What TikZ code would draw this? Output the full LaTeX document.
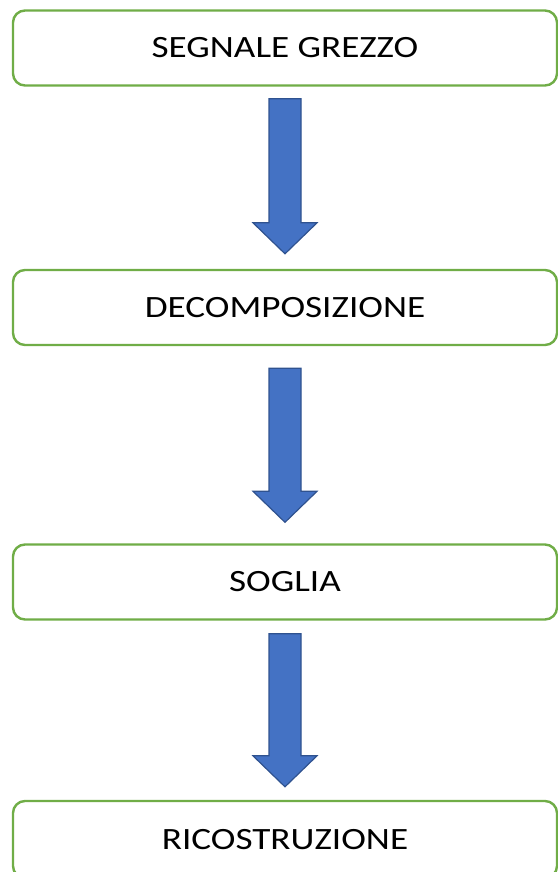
\documentclass[tikz,border=0pt]{standalone}
\usepackage{fontspec}
\setmainfont{Carlito}[FakeStretch=1.2]
\usetikzlibrary{calc}

\definecolor{boxgreen}{HTML}{70AD47}
\definecolor{arrowfill}{HTML}{4472C4}
\definecolor{arrowline}{HTML}{2F528F}

\tikzset{
  stepbox/.style={draw=boxgreen,line width=2.4pt,rounded corners=12pt,fill=white,
    minimum width=544pt,minimum height=75pt,font=\fontsize{31}{35}\selectfont},
  blockarrow/.style={fill=arrowfill,draw=arrowline,line width=1.2pt,line join=miter}
}

% block arrow pointing down from #1 to #2
\newcommand\downblock[2]{%
  \draw[blockarrow] let \p1=(#1), \p2=(#2) in
    (\x1-16,\y1) -- (\x1+16,\y1) -- (\x1+16,\y2+31) -- (\x1+32,\y2+31)
    -- (\x2,\y2) -- (\x1-32,\y2+31) -- (\x1-16,\y2+31) -- cycle;}

\begin{document}
\begin{tikzpicture}[x=1pt,y=-1pt]
  \useasboundingbox (0,0) rectangle (557,872);

  \node[stepbox] (raw)   at (285,48)    {SEGNALE GREZZO};
  \node[stepbox] (decomp) at (285,307.5) {DECOMPOSIZIONE};
  \node[stepbox] (thresh) at (285,582)   {SOGLIA};
  \node[stepbox,minimum height=77pt] (recon) at (285,839.5) {RICOSTRUZIONE};

  \coordinate (a1) at ($ (raw.south) + (0,12) $);
  \coordinate (t1) at ($ (decomp.north) + (0,-15) $);
  \coordinate (a2) at ($ (decomp.south) + (0,22) $);
  \coordinate (t2) at ($ (thresh.north) + (0,-21) $);
  \coordinate (a3) at ($ (thresh.south) + (0,13) $);
  \coordinate (t3) at ($ (recon.north) + (0,-13) $);

  \downblock{a1}{t1}
  \downblock{a2}{t2}
  \downblock{a3}{t3}
\end{tikzpicture}
\end{document}
